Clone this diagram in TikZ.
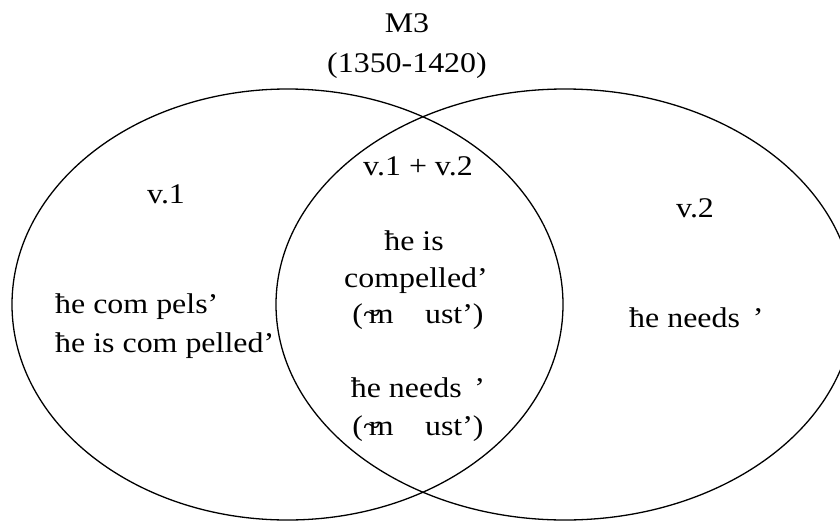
\documentclass[tikz,border=0pt]{standalone}
\usepackage{fontspec}
\setmainfont{Liberation Serif}[FakeStretch=1.12]
\begin{document}
\begin{tikzpicture}[x=1pt,y=-1pt,
  txt/.style={inner sep=0pt,anchor=base,font=\fontsize{28.5}{34}\selectfont},
  txtl/.style={txt,anchor=base west},
  set/.style={draw=black,line width=1.3pt}]
\useasboundingbox (0,0) rectangle (840,522);
\begin{scope}
\clip (0,0) rectangle (840,522);
\draw[set] (287.5,304.5) ellipse [x radius=275.5, y radius=215.5];
\draw[set] (565,304.5) ellipse [x radius=289, y radius=215.5];
\end{scope}
\node[txt] (m3) at (407,32) {M3};
\node[txt] (yr) at (407,72) {(1350-1420)};
\node[txt] (v1) at (166,203) {v.1};
\node[txt] (v12) at (418,175) {v.1 + v.2};
\node[txt] (v2) at (695,217) {v.2};
\node[txtl] (l1) at (55,313) {ħe com pels’};
\node[txtl] (l2) at (55,352) {ħe is com pelled’};
\node[txt] (c1) at (414,250) {ħe is};
\node[txt] (c2) at (416,287) {compelled’};
\node[txt] (c3) at (418,323) {(\textasciitilde\kern-0.4em m\hspace{1.1em}ust’)};
\node[txt] (c4) at (418,397) {ħe needs\hspace{0.45em}’};
\node[txt] (c5) at (418,435) {(\textasciitilde\kern-0.4em m\hspace{1.1em}ust’)};
\node[txtl] (r1) at (629,327) {ħe needs\hspace{0.45em}’};
\end{tikzpicture}
\end{document}
